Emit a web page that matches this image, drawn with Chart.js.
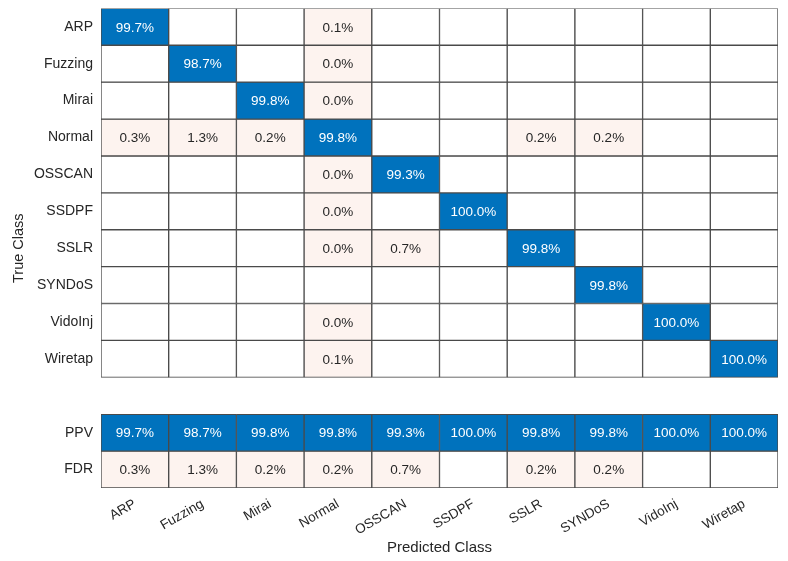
<!DOCTYPE html>
<html>
<head>
<meta charset="utf-8">
<script src="https://cdn.jsdelivr.net/npm/chart.js@4"></script>
<style>
  html, body { margin: 0; padding: 0; background: #fff; }
  #wrap { width: 788px; height: 561px; }
</style>
</head>
<body>
<div id="wrap"><canvas id="cm"></canvas></div>
<script>
// Class names (rows = true class, columns = predicted class)
const classes = ['ARP', 'Fuzzing', 'Mirai', 'Normal', 'OSSCAN', 'SSDPF', 'SSLR', 'SYNDoS', 'VidoInj', 'Wiretap'];

// Column-normalized percentages, null = no observations
const rowARP     = [99.7, null, null, 0.1, null, null, null, null, null, null];
const rowFuzzing = [null, 98.7, null, 0.0, null, null, null, null, null, null];
const rowMirai   = [null, null, 99.8, 0.0, null, null, null, null, null, null];
const rowNormal  = [0.3, 1.3, 0.2, 99.8, null, null, 0.2, 0.2, null, null];
const rowOSSCAN  = [null, null, null, 0.0, 99.3, null, null, null, null, null];
const rowSSDPF   = [null, null, null, 0.0, null, 100.0, null, null, null, null];
const rowSSLR    = [null, null, null, 0.0, 0.7, null, 99.8, null, null, null];
const rowSYNDoS  = [null, null, null, null, null, null, null, 99.8, null, null];
const rowVidoInj = [null, null, null, 0.0, null, null, null, null, 100.0, null];
const rowWiretap = [null, null, null, 0.1, null, null, null, null, null, 100.0];

// Column summary
const ppv = [99.7, 98.7, 99.8, 99.8, 99.3, 100.0, 99.8, 99.8, 100.0, 100.0];
const fdr = [0.3, 1.3, 0.2, 0.2, 0.7, null, 0.2, 0.2, null, null];

// Row labels on the left (blank one is the gap between matrix and summary)
const rowLabels = [...classes, '', 'PPV', 'FDR'];

const BLUE = '#0072BD';
const PINK = '#FDF3EF';
const LINE = '#4a4a4a';
const TEXT = '#262626';
const FONT = "'Liberation Sans', Arial, Helvetica, sans-serif";

const matrix = [rowARP, rowFuzzing, rowMirai, rowNormal, rowOSSCAN, rowSSDPF, rowSSLR, rowSYNDoS, rowVidoInj, rowWiretap];

function makeRow(values, rowIndex, colorFor) {
    return {
        data: classes.map(c => ({ x: c, y: [rowIndex, rowIndex + 1] })),
        values: values,
        backgroundColor: values.map((v, j) => colorFor(v, j)),
        textColor: values.map((v, j) => colorFor(v, j) === BLUE ? '#ffffff' : TEXT),
        borderColor: LINE,
        borderWidth: 1,
        borderSkipped: false,
        grouped: false,
        barPercentage: 1,
        categoryPercentage: 1,
        yAxisID: 'y'
    };
}

const datasets = matrix.map((row, i) =>
    makeRow(row, i, (v, j) => v === null ? '#ffffff' : (i === j ? BLUE : PINK))
);
datasets.push(makeRow(ppv, 11, () => BLUE));
datasets.push(makeRow(fdr, 12, v => v === null ? '#ffffff' : PINK));

// Writes the percentage in the middle of each cell
const cellText = {
    id: 'cellText',
    afterDatasetsDraw(chart) {
        const ctx = chart.ctx;
        ctx.save();
        ctx.font = '13.5px ' + FONT;
        ctx.textAlign = 'center';
        ctx.textBaseline = 'middle';
        chart.data.datasets.forEach((ds, i) => {
            chart.getDatasetMeta(i).data.forEach((bar, j) => {
                const v = ds.values[j];
                if (v === null) return;
                const p = bar.getCenterPoint();
                ctx.fillStyle = ds.textColor[j];
                ctx.fillText(v.toFixed(1) + '%', p.x, p.y + 1);
            });
        });
        ctx.restore();
    }
};

new Chart(document.getElementById('cm'), {
    type: 'bar',
    data: { labels: classes, datasets: datasets },
    plugins: [cellText],
    options: {
        responsive: true,
        maintainAspectRatio: false,
        animation: false,
        layout: { padding: { top: 1, right: 10, left: 0, bottom: 0 } },
        plugins: {
            legend: { display: false },
            tooltip: { enabled: false }
        },
        scales: {
            x: {
                type: 'category',
                offset: true,
                grid: { display: false },
                border: { display: false },
                ticks: {
                    color: TEXT,
                    font: { family: FONT, size: 13.5 },
                    minRotation: 30,
                    maxRotation: 30,
                    padding: 0
                },
                title: {
                    display: true,
                    text: 'Predicted Class',
                    color: TEXT,
                    font: { family: FONT, size: 15 },
                    padding: { top: 2, bottom: 4 }
                },
                afterFit(scale) { scale.height = 73; }
            },
            y: {
                type: 'linear',
                reverse: true,
                min: 0,
                max: 13,
                display: false
            },
            yl: {
                type: 'category',
                position: 'left',
                labels: rowLabels,
                offset: true,
                grid: { display: false },
                border: { display: false },
                ticks: {
                    color: TEXT,
                    font: { family: FONT, size: 14 },
                    padding: 0
                },
                title: {
                    display: true,
                    text: 'True Class',
                    color: TEXT,
                    font: { family: FONT, size: 14.5 },
                    padding: { top: 10, bottom: 0 }
                },
                afterFit(scale) { scale.width = 101; }
            }
        }
    }
});
</script>
</body>
</html>
